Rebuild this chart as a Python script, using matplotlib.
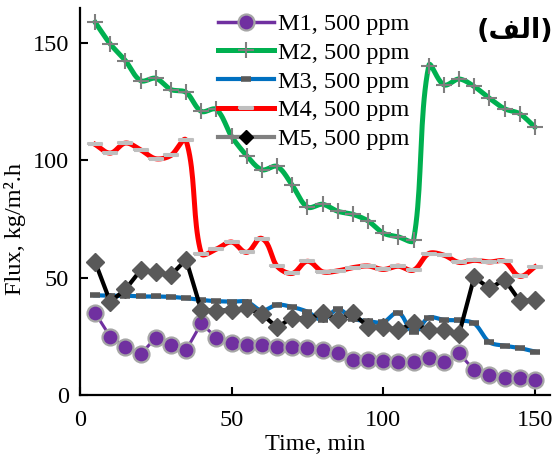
import matplotlib
matplotlib.use("Agg")
import matplotlib.pyplot as plt
from matplotlib.lines import Line2D
import numpy as np

plt.rcParams['font.family'] = ['Liberation Serif', 'DejaVu Sans']

# data
time = list(range(5, 155, 5))
m1 = [35, 24.8, 20.6, 17.4, 24.4, 21.3, 19.1, 30.5, 24.4, 22, 21.4, 21.4, 20.3, 20.6, 20,
      19, 17.7, 14.9, 14.9, 14.6, 14.2, 14.2, 15.6, 14.2, 17.7, 10.6, 8.5, 7.1, 7.1, 6.4]
m2 = [158.9, 149.6, 142.5, 134, 135, 130.2, 129, 120.9, 121.7, 110.2, 102, 96, 97.4, 89.4, 80.1,
      81.3, 78.3, 77, 74.2, 69, 67.4, 66, 140.4, 132.2, 134.7, 131.5, 126.5, 122, 119.9, 114.2]
m3 = [42.5, 42.3, 42.3, 42, 42, 41.8, 41.3, 40.5, 40, 39.8, 39.8, 36, 38.5, 37.5, 35.5,
      32, 36.5, 32.5, 31.5, 31, 35, 27, 33, 32, 31.8, 30.5, 22.5, 21, 20, 18.5]
m4 = [106.8, 103.1, 107.4, 104.5, 100.7, 102.1, 108.5, 60.3, 62.2, 65.2, 60.8, 66.7, 54.9, 51.8, 57,
      52.5, 52.9, 54.3, 55, 53.5, 54.9, 53.2, 60.3, 59.6, 56.5, 57.4, 56.7, 57, 50.6, 54.6]
m5 = [56.7, 39.7, 45, 53.2, 52.5, 51.1, 57.7, 36.2, 35.9, 36.2, 36.9, 34.5, 28.8, 33, 32.5,
      34.8, 32.2, 34.8, 29.1, 29.1, 27.7, 30.5, 27.7, 27.7, 26, 50.3, 45.4, 49.2, 40.1, 40.4]
labels = ['M1, 500 ppm', 'M2, 500 ppm', 'M3, 500 ppm', 'M4, 500 ppm', 'M5, 500 ppm']


def smooth(x, y, n=20, f=0.3, yscale=0.773):
    # Bezier smoothing with control arms scaled by segment length (Excel-like)
    p = np.column_stack([np.asarray(x, float), np.asarray(y, float) * yscale])
    k = len(p)
    d = np.zeros_like(p)
    for i in range(k):
        a = p[max(i - 1, 0)]
        b = p[min(i + 1, k - 1)]
        v = b - a
        d[i] = v / np.hypot(*v)
    t = np.linspace(0, 1, n, endpoint=False)[:, None]
    pts = []
    for i in range(k - 1):
        L = np.hypot(*(p[i + 1] - p[i]))
        c1 = p[i] + d[i] * L * f
        c2 = p[i + 1] - d[i + 1] * L * f
        seg = ((1 - t) ** 3 * p[i] + 3 * (1 - t) ** 2 * t * c1
               + 3 * (1 - t) * t ** 2 * c2 + t ** 3 * p[i + 1])
        pts.append(seg)
    pts.append(p[-1:])
    pts = np.vstack(pts)
    return pts[:, 0], pts[:, 1] / yscale


rect = [(-1, -0.22), (1, -0.22), (1, 0.22), (-1, 0.22), (-1, -0.22)]

fig = plt.figure(figsize=(5.59, 4.57), dpi=100)
ax = fig.add_axes([0.143, 0.1357, 0.841, 0.847])

# M1
ax.plot(time, m1, color='#7030A0', lw=2.2, marker='o', ms=11.5,
        mfc='#7030A0', mec='#A6A6A6', mew=1.6, zorder=3)
# M2
sx, sy = smooth(time, m2)
ax.plot(sx, sy, color='#00B050', lw=3.6, zorder=3)
ax.plot(time, m2, ls='none', marker='+', ms=11, mec='#7F7F7F', mew=1.5, zorder=3)
# M3
sx, sy = smooth(time, m3)
ax.plot(sx, sy, color='#0070C0', lw=3, zorder=4)
ax.plot(time, m3, ls='none', marker='_', ms=7, mec='#595959', mew=4, zorder=4)
# M4
sx, sy = smooth(time, m4)
ax.plot(sx, sy, color='#FF0000', lw=3.6, zorder=3)
ax.plot(time, m4, ls='none', marker=rect, ms=9.5, mfc='#FF0000', mec='#BFBFBF',
        mew=1.5, zorder=3)
# M5
ax.plot(time, m5, color='black', lw=3, marker='D', ms=9.5, mfc='#595959',
        mec='#595959', zorder=5)

ax.set_xlim(0, 155)
ax.set_ylim(0, 165)
ax.set_xticks([0, 50, 100, 150])
ax.set_yticks([0, 50, 100, 150])
ax.spines['top'].set_visible(False)
ax.spines['right'].set_visible(False)
ax.spines['left'].set_linewidth(1.6)
ax.spines['bottom'].set_linewidth(1.6)
ax.tick_params(direction='in', length=6, width=1.5, labelsize=17.5, pad=8)
ax.tick_params(axis='x', pad=11)

ax.set_xlabel('Time, min', fontsize=17.5, labelpad=2)
ax.set_ylabel('Flux, kg/m\u00b2.h', fontsize=17.5)
ax.yaxis.set_label_coords(-0.115, 0.43)

handles = [
    Line2D([], [], color='#7030A0', lw=2.5, marker='o', ms=11.5, mfc='#7030A0',
           mec='#A6A6A6', mew=1.6),
    Line2D([], [], color='#00B050', lw=3.6, marker='+', ms=11, mec='#7F7F7F', mew=1.5),
    Line2D([], [], color='#0070C0', lw=3, marker='_', ms=7, mec='#595959', mew=4),
    Line2D([], [], color='#FF0000', lw=3.6, marker=rect, ms=9.5, mfc='#FF0000',
           mec='#BFBFBF', mew=1.5),
    Line2D([], [], color='#808080', lw=3, marker='D', ms=7, mfc='black', mec='black'),
]
ax.legend(handles, labels, loc='upper left', bbox_to_anchor=(218 / 559, 1 - 13 / 457),
          bbox_transform=fig.transFigure, frameon=False, fontsize=17.5,
          handlelength=2.3, handletextpad=0.15, labelspacing=0.28, borderpad=0,
          borderaxespad=0, markerscale=1, numpoints=1)

fig.text(553 / 559, 1 - 31 / 457, '(\uFED2\uFEDF\u0627)', family='DejaVu Sans',
         fontweight='bold', fontsize=19.5, ha='right', va='center')

fig.savefig('out.png', dpi=100)
